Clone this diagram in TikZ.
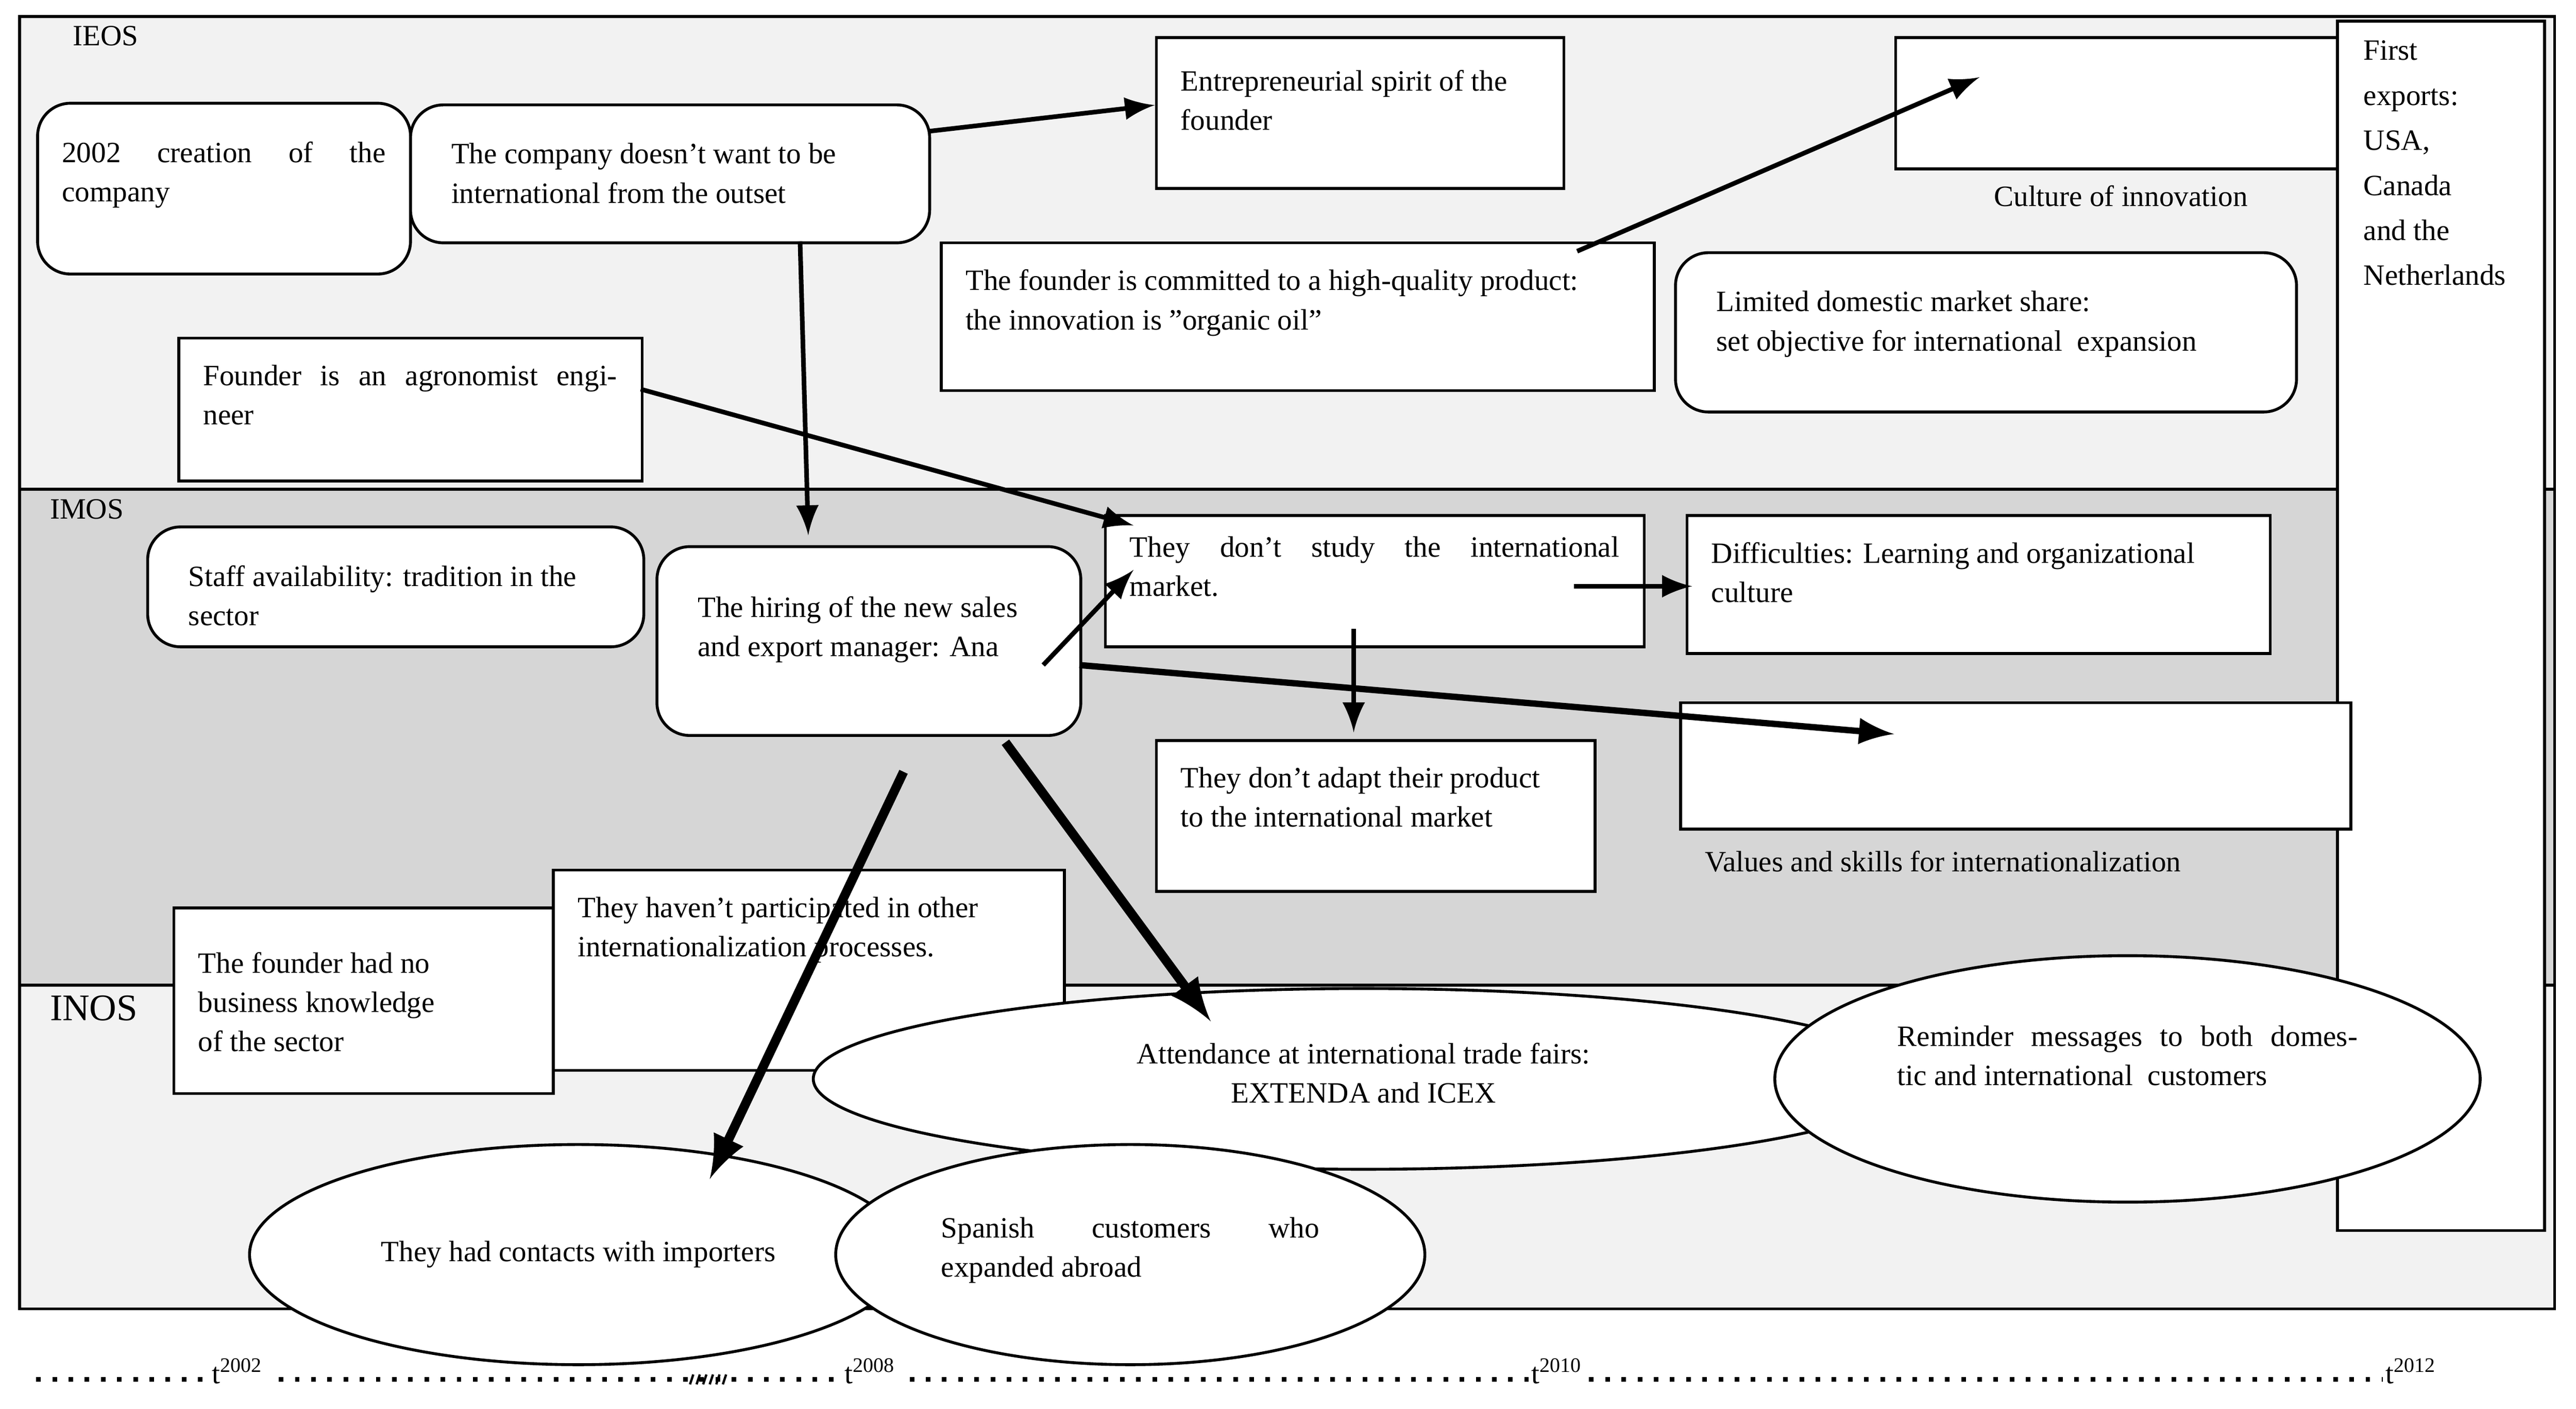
\documentclass[tikz,border=0pt]{standalone}
\usepackage{fontspec}
\setmainfont{Liberation Serif}
\usetikzlibrary{shapes.geometric}
\newcommand{\bxx}[8]{\node[#7,anchor=north west,inner sep=0pt,minimum width=#4*0.01cm,minimum height=#5*0.01cm] (#1) at (#2,#3) {};
\node[anchor=north west,inner sep=0pt] at ([xshift=0.15cm,yshift=-0.13cm-#8pt]#1.north west) {\parbox[t]{\dimexpr 0.01cm*#4-0.3cm\relax}{\raggedright #6}};}
\newcommand{\jline}[1]{\makebox[\linewidth][s]{#1}}
\begin{document}
\begin{tikzpicture}[x=0.01cm,y=-0.01cm,font=\fontsize{5.1}{6.8}\selectfont,
 box/.style={draw,fill=white,line width=0.5pt},
 rbox/.style={draw,fill=white,rounded corners=0.2cm,line width=0.5pt},
 ell/.style={draw,fill=white,ellipse,line width=0.5pt,align=center},
 arr/.style={-latex,line width=0.8pt},
 barr/.style={-latex,line width=1.6pt}]
\useasboundingbox (0,0) rectangle (1568,858);
\fill[white] (0,0) rectangle (1568,858);
\fill[black!5] (12,10) rectangle (1555,298);
\fill[black!16] (12,298) rectangle (1555,600);
\fill[black!5] (12,600) rectangle (1555,797);
\draw[line width=0.5pt] (12,10) rectangle (1555,797);
\draw[line width=0.5pt] (12,298) -- (1555,298) (12,600) -- (1555,600);
\node[anchor=west] (ieos) at (32,22) {IEOS};
\node[anchor=west] (imos) at (18,310) {IMOS};
\node[anchor=west,font=\fontsize{6.5}{8}\selectfont] (inos) at (18,614) {INOS};
\node[box,anchor=north west,minimum width=1.26cm,minimum height=7.36cm] (fe) at (1422,12) {};
\node[anchor=north west,inner sep=0pt,align=left] at (1438,24) {First\\[1pt]exports:\\[1pt]USA,\\[1pt]Canada\\[1pt]and the\\[1pt]Netherlands};
\bxx{n1}{22}{62}{227}{104}{\jline{2002 creation of the}\\company}{rbox}{3}
\bxx{n2}{249}{63}{316}{84}{\hspace*{0.1cm}The company doesn't want to be\\\hspace*{0.1cm}international from the outset}{rbox}{3}
\bxx{n3}{703}{22}{248}{92}{Entrepreneurial spirit of the\\founder}{box}{2}
\bxx{n4}{1153}{22}{269}{80}{\hspace*{0.45cm}Culture of innovation}{box}{22}
\bxx{n5}{572}{147}{434}{90}{The founder is committed to a high-quality product:\\the innovation is "organic oil"}{box}{1}
\bxx{n6}{1019}{153}{378}{97}{\hspace*{0.1cm}Limited domestic market share:\\\hspace*{0.1cm}set objective for international \ expansion}{rbox}{3}
\bxx{n7}{108}{205}{282}{87}{\jline{Founder is an agronomist engi-}\\neer}{box}{1}
\bxx{n8}{89}{320}{302}{73}{\hspace*{0.1cm}Staff availability: tradition in the\\\hspace*{0.1cm}sector}{rbox}{3}
\bxx{n9}{399}{332}{258}{115}{\hspace*{0.1cm}The hiring of the new sales\\\hspace*{0.1cm}and export manager: Ana}{rbox}{5}
\bxx{n10}{672}{313}{328}{80}{\jline{They don't study the international}\\market.}{box}{0}
\bxx{n11}{1026}{313}{355}{84}{Difficulties: Learning and organizational\\culture}{box}{1}
\bxx{n12}{1022}{427}{408}{77}{Values and skills for internationalization}{box}{22}
\bxx{n13}{703}{450}{267}{92}{They don't adapt their product\\ to the international market}{box}{1}
\bxx{n15}{105}{552}{231}{113}{The founder had no\\business knowledge\\of the sector}{box}{4}
\bxx{n14}{336}{529}{311}{122}{They haven't participated in other\\ internationalization processes.}{box}{1}
\node[ell,minimum width=5.6cm,minimum height=1.1cm] (n16) at (830,657) {\raisebox{6pt}{\parbox{4.5cm}{\centering Attendance at international trade fairs:\\EXTENDA and ICEX}}};
\node[ell,minimum width=4.24cm,minimum height=1.5cm] (n17) at (1295,657) {\raisebox{12pt}{\parbox{2.8cm}{\jline{Reminder messages to both domes-}\\tic and international \ customers}}};
\node[ell,minimum width=4cm,minimum height=1.34cm] (n18) at (352,764) {They had contacts with importers};
\node[ell,minimum width=3.24cm,minimum height=1.34cm] (n19) at (688,764) {\raisebox{6pt}{\parbox{2.3cm}{\jline{Spanish customers who}\\expanded abroad}}};
% arrows
\coordinate (a1s) at (565,80); \coordinate (a1e) at (703,64);
\draw[arr] (a1s) -- (a1e);
\coordinate (a2s) at (960,153); \coordinate (a2e) at (1205,47);
\draw[arr] (a2s) -- (a2e);
\coordinate (a3s) at (487,147); \coordinate (a3e) at (492,326);
\draw[arr] (a3s) -- (a3e);
\coordinate (a4s) at (390,237); \coordinate (a4e) at (690,320);
\draw[arr] (a4s) -- (a4e);
\coordinate (a5s) at (635,405); \coordinate (a5e) at (690,347);
\draw[arr] (a5s) -- (a5e);
\coordinate (a6s) at (958,357); \coordinate (a6e) at (1030,357);
\draw[arr] (a6s) -- (a6e);
\coordinate (a7s) at (824,383); \coordinate (a7e) at (824,446);
\draw[arr] (a7s) -- (a7e);
\coordinate (a8s) at (657,405); \coordinate (a8e) at (1153,447);
\draw[arr,line width=1.1pt] (a8s) -- (a8e);
\coordinate (a9s) at (612,452); \coordinate (a9e) at (737,622);
\draw[barr] (a9s) -- (a9e);
\coordinate (a10s) at (550,470); \coordinate (a10e) at (432,718);
\draw[barr] (a10s) -- (a10e);
% timeline
\coordinate (t0) at (22,840); \coordinate (t1) at (1485,840);
\draw[dotted,line width=0.8pt] (t0) -- (t1);
\draw[line width=0.4pt] (420,843) -- (422,837) (424,843) -- (426,837) (428,843) -- (430,837) (432,843) -- (434,837) (436,843) -- (438,837) (440,843) -- (442,837);
\foreach \x/\t in {145/2002,530/2008,948/2010,1468/2012}
 \node[fill=white,inner sep=0.5pt] at (\x,835) {t\textsuperscript{\t}};
\end{tikzpicture}
\end{document}
